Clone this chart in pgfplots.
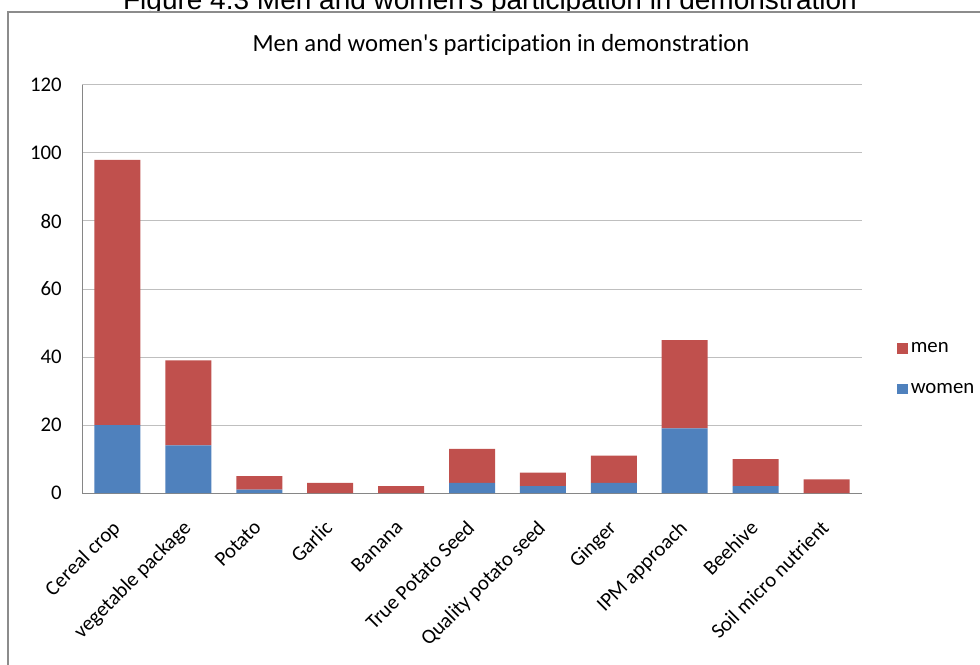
\documentclass[border=0pt]{standalone}
\usepackage{fontspec}
\setmainfont{Carlito}[Ligatures={NoCommon}]
\newfontfamily\arialfont{Liberation Sans}
\usepackage{pgfplots}
\pgfplotsset{compat=1.18}
\definecolor{menred}{HTML}{C0504D}
\definecolor{womenblue}{HTML}{4F81BD}
\definecolor{gridgray}{HTML}{BFBFBF}
\definecolor{axisgray}{HTML}{868686}
\definecolor{framegray}{HTML}{8C8C8C}

\begin{document}
\begin{tikzpicture}[x=0.75pt,y=0.75pt]
\path[use as bounding box] (0,0) rectangle (980,664);
% figure caption, partly hidden behind the chart frame
\node[anchor=base, font=\arialfont\fontsize{21}{25}\selectfont, inner sep=0pt] at (490,654)
  {Figure 4.3 Men and women\textquotesingle s participation in demonstration};
% chart area
\draw[framegray, line width=1.5pt, fill=white] (8,652) rectangle (1000,-30);
\node[anchor=base, font=\fontsize{18.5}{22}\selectfont, inner sep=0pt] at (501,612)
  {Men and women\textquotesingle s participation in demonstration};
\begin{axis}[
  at={(61.5pt,128.25pt)}, anchor=south west,
  scale only axis, width=585pt, height=306pt,
  ybar stacked, bar width=34.5pt,
  xmin=-0.5, xmax=10.5, ymin=0, ymax=120,
  xtick={0,...,10},
  xticklabels={Cereal crop, vegetable package, Potato, Garlic, Banana,
    True Potato Seed, Quality potato seed, Ginger, IPM approach, Beehive,
    Soil micro nutrient},
  ytick={0,20,...,120},
  axis lines*=left,
  axis line style={-, axisgray, line width=0.75pt},
  major tick length=0pt,
  ymajorgrids, grid style={gridgray, line width=0.75pt},
  tick label style={font=\fontsize{15.6}{18}\selectfont},
  /pgf/number format/assume math mode=true,
  yticklabel style={inner sep=0pt, xshift=-15pt},
  xticklabel style={rotate=45, anchor=north east, inner sep=0pt, xshift=-17.2pt, yshift=-10.1pt},
  legend style={at={(1.04,0.383)}, anchor=north west, draw=none, fill=none,
    font=\fontsize{15.6}{18}\selectfont, row sep=17.5pt},
  legend cell align=left,
  legend image code/.code={\fill[#1] (0pt,-4pt) rectangle (8pt,4pt);},
  reverse legend,
]
\addplot[fill=womenblue, draw=none] coordinates {
  (0,20) (1,14) (2,1) (3,0) (4,0) (5,3) (6,2) (7,3) (8,19) (9,2) (10,0)};
\addlegendentry{women}
\addplot[fill=menred, draw=none] coordinates {
  (0,78) (1,25) (2,4) (3,3) (4,2) (5,10) (6,4) (7,8) (8,26) (9,8) (10,4)};
\addlegendentry{men}
\end{axis}
\end{tikzpicture}
\end{document}
